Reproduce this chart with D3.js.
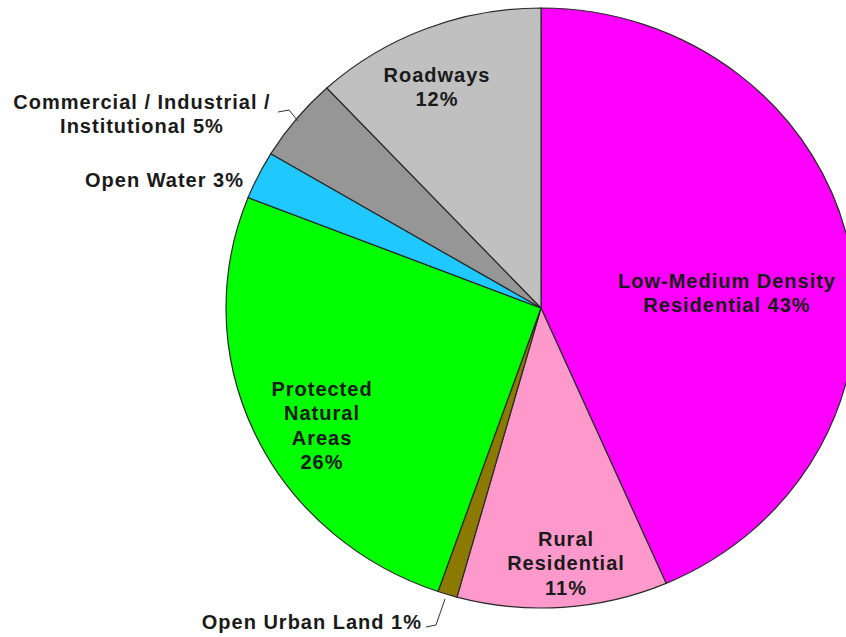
<!DOCTYPE html>
<html>
<head>
<meta charset="utf-8">
<script src="https://cdn.jsdelivr.net/npm/d3@7"></script>
<style>
  body { margin: 0; background: #fff; }
  svg { display: block; }
  text { font-family: Arial, "Liberation Sans", sans-serif; font-weight: bold; font-size: 20px; letter-spacing: 1px; fill: #1a1a1a; }
</style>
</head>
<body>
<div id="chart"></div>
<script>
// slices, clockwise from 12 o'clock
const categories = ["Low-Medium Density Residential", "Rural Residential", "Open Urban Land",
    "Protected Natural Areas", "Open Water", "Commercial / Industrial / Institutional", "Roadways"];
const shares = [43.5, 10.8, 1.0, 25.7, 2.6, 4.5, 11.9];
const labelLines = [
    ["Low-Medium Density", "Residential 43%"],
    ["Rural", "Residential", "11%"],
    ["Open Urban Land 1%"],
    ["Protected", "Natural", "Areas", "26%"],
    ["Open Water 3%"],
    ["Commercial / Industrial /", "Institutional 5%"],
    ["Roadways", "12%"]
];
const colors = ["#ff00ff", "#ff99cc", "#8c7a00", "#00ff00", "#1fc8ff", "#969696", "#c0c0c0"];

const width = 846, height = 637;
const cx = 541, cy = 308, r = 300, sx = 1.05;

// where each label block goes (first baseline, anchor)
const labelPos = [
    { x: 727, y: 288, anchor: "middle" },
    { x: 566, y: 546, anchor: "middle" },
    { x: 422, y: 629, anchor: "end" },
    { x: 322, y: 396, anchor: "middle" },
    { x: 244, y: 187, anchor: "end" },
    { x: 142, y: 109, anchor: "middle" },
    { x: 437, y: 82, anchor: "middle" }
];
const lineHeight = 24.3;

const svg = d3.select("#chart").append("svg")
    .attr("width", width)
    .attr("height", height);

const pie = d3.pie().sort(null).value(d => d);
const arc = d3.arc().innerRadius(0).outerRadius(r);

const g = svg.append("g")
    .attr("transform", `translate(${cx},${cy}) scale(${sx},1)`);

g.selectAll("path")
    .data(pie(shares))
    .enter()
    .append("path")
    .attr("d", arc)
    .attr("fill", (d, i) => colors[i])
    .attr("stroke", "#2a2a2a")
    .attr("stroke-width", 1.2)
    .attr("vector-effect", "non-scaling-stroke");

// leader lines for the two outside labels
const leaders = [
    [[278, 112], [289, 110], [298, 121]],
    [[426, 627], [436, 625], [445, 599]]
];
svg.selectAll("polyline")
    .data(leaders)
    .enter()
    .append("polyline")
    .attr("points", d => d.map(p => p.join(",")).join(" "))
    .attr("fill", "none")
    .attr("stroke", "#333")
    .attr("stroke-width", 1);

const labels = svg.selectAll("text.lbl")
    .data(labelLines)
    .enter()
    .append("text")
    .attr("class", "lbl")
    .attr("text-anchor", (d, i) => labelPos[i].anchor);

labels.selectAll("tspan")
    .data((d, i) => d.map((t, j) => ({ t, j, i })))
    .enter()
    .append("tspan")
    .attr("x", d => labelPos[d.i].x)
    .attr("y", d => labelPos[d.i].y + d.j * lineHeight)
    .text(d => d.t);
</script>
</body>
</html>
